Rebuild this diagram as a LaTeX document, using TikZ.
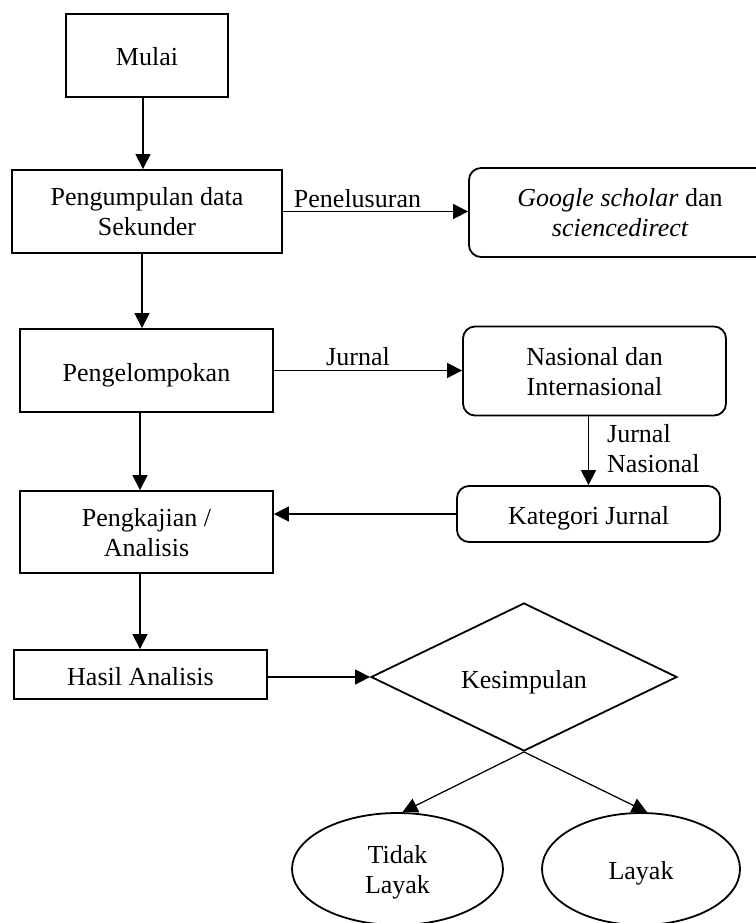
\documentclass[tikz,border=0pt]{standalone}
\usepackage{fontspec}
\setmainfont{Liberation Serif}
\usetikzlibrary{shapes.geometric,arrows.meta}
\begin{document}
\begin{tikzpicture}[x=1pt,y=-1pt,
  every node/.style={font=\fontsize{26}{30}\selectfont},
  box/.style={draw,line width=1.8pt,inner sep=0pt,align=center},
  rbox/.style={box,rounded corners=12pt},
  oval/.style={draw,line width=1.8pt,ellipse,inner sep=0pt,align=center},
  oneline/.style={text height=21pt,text depth=0pt},
  twoline/.style={text depth=0pt},
  lbl/.style={inner sep=0pt},
  arr/.style={line width=1.25pt,-{Triangle[length=15pt,width=15pt]}}]
\useasboundingbox (0,0) rectangle (755,923);
\node[box,oneline,minimum width=162pt,minimum height=83pt] (mulai) at (147,55.5) {Mulai};
\node[box,twoline,minimum width=270pt,minimum height=83pt] (pumpul) at (147,211.5) {Pengumpulan data\\Sekunder};
\node[rbox,minimum width=302pt,minimum height=89pt] (google) at (620,212.5) {\itshape Google scholar \upshape dan\\\itshape sciencedirect};
\node[box,oneline,minimum width=253pt,minimum height=83pt] (kelompok) at (146.5,370.5) {Pengelompokan};
\node[rbox,twoline,minimum width=263pt,minimum height=89pt] (nasional) at (594.5,371) {Nasional dan\\Internasional};
\node[rbox,oneline,minimum width=263pt,minimum height=56pt] (kategori) at (588.5,514) {Kategori Jurnal};
\node[box,twoline,minimum width=253pt,minimum height=82pt] (kaji) at (146.5,532) {Pengkajian /\\Analisis};
\node[box,oneline,minimum width=253pt,minimum height=49pt] (hasil) at (140.5,674.5) {Hasil Analisis};
\node[draw,line width=1.8pt,diamond,aspect=2.07,inner sep=0pt,minimum width=306pt,minimum height=148pt] (kes) at (524,677) {};
\node[lbl,anchor=base] (kestext) at (524,688) {Kesimpulan};
\node[oval,twoline,minimum width=211pt,minimum height=112pt] (tidak) at (397.5,869) {Tidak\\Layak};
\node[oval,oneline,minimum width=198pt,minimum height=112pt] (layak) at (641,869) {Layak};
\node[lbl,anchor=base] (penel) at (357.5,207) {Penelusuran};
\node[lbl,anchor=base] (jurnal) at (358,365) {Jurnal};
\node[lbl,anchor=west,align=left] (jnas) at (607,449) {Jurnal\\Nasional};
\draw[arr] ([xshift=-4pt]mulai.south) -- ([xshift=-4pt]mulai.south |- pumpul.north);
\draw[arr] ([xshift=-5pt]pumpul.south) -- ([xshift=-5pt]pumpul.south |- kelompok.north);
\draw[arr] ([xshift=-6.5pt]kelompok.south) -- ([xshift=-6.5pt]kelompok.south |- kaji.north);
\draw[arr] ([xshift=-6.5pt]kaji.south) -- ([xshift=-6.5pt]kaji.south |- hasil.north);
\draw[arr] (pumpul.east) -- (pumpul.east -| google.west);
\draw[arr] (kelompok.east) -- (kelompok.east -| nasional.west);
\draw[arr] (kategori.north |- nasional.south) -- (kategori.north);
\draw[arr] (kategori.west) -- (kategori.west -| kaji.east);
\draw[arr] (hasil.east |- kes.west) -- (kes.west);
\draw[arr] (kes.south) -- ([xshift=5pt]tidak.north);
\draw[arr] (kes.south) -- ([xshift=6pt]layak.north);
\end{tikzpicture}
\end{document}
